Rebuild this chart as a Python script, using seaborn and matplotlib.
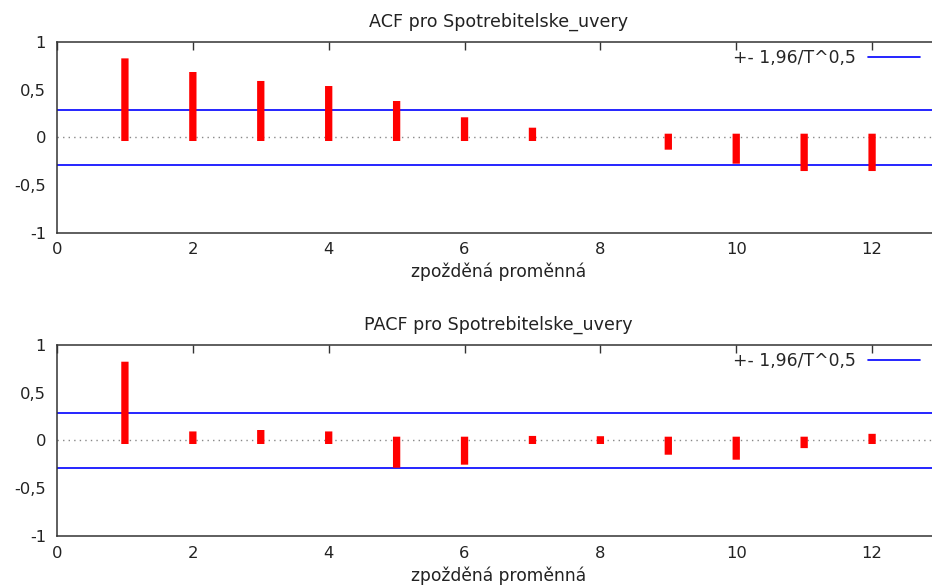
import numpy as np
import pandas as pd
import matplotlib
matplotlib.use("Agg")
import matplotlib.pyplot as plt
from matplotlib.lines import Line2D
import seaborn as sns

lags = [1, 2, 3, 4, 5, 6, 7, 8, 9, 10, 11, 12]
acf_values = [0.79, 0.647, 0.553, 0.50, 0.343, 0.172, 0.063, np.nan, -0.091, -0.238, -0.315, -0.315]
pacf_values = [0.784, 0.055, 0.07, 0.055, -0.248, -0.216, 0.008, 0.005, -0.112, -0.164, -0.043, 0.03]
band = 0.286
titles = ["ACF pro Spotrebitelske_uvery", "PACF pro Spotrebitelske_uvery"]
xlabel = "zpožděná proměnná"
legend_label = "+- 1,96/T^0,5"
xticks = [0, 2, 4, 6, 8, 10, 12]
yticks = [-1, -0.5, 0, 0.5, 1]
ytick_labels = ["-1", "-0,5", "0", "0,5", "1"]

sns.set_theme(style="white")
plt.rcParams["font.family"] = ["DejaVu Sans"]
plt.rcParams["path.simplify"] = False

FS = 11.8
W, H = 932, 585
fig = plt.figure(figsize=(W / 100, H / 100), dpi=100)
# axes boxes in pixels: left, top, right, bottom
boxes = [(57, 42, 940, 232.7), (57, 344.7, 940, 536)]

for vals, title, (l, t, r, b) in zip([acf_values, pacf_values], titles, boxes):
    ax = fig.add_axes([l / W, 1 - b / H, (r - l) / W, (b - t) / H])
    df = pd.DataFrame({"lag": lags, "value": vals}).dropna()
    # impulses: each lag is a segment from 0 to its value
    seg = pd.concat([df.assign(y=0.0, order=0), df.assign(y=df["value"], order=1)])
    seg = seg.sort_values(["lag", "order"]).reset_index(drop=True)
    ax.axhline(0, color="#888888", lw=1.0, linestyle=(0, (1, 3)), zorder=1)
    n_before = len(ax.lines)
    sns.lineplot(data=seg, x="lag", y="y", units="lag", estimator=None, sort=False,
                 color="#ff0000", linewidth=5.26, ax=ax, zorder=3)
    for ln in ax.lines[n_before:]:
        ln.set_solid_capstyle("projecting")
        ln.set_snap(False)
    ax.axhline(band, color="#0000ff", lw=1.2, zorder=2)
    ax.axhline(-band, color="#0000ff", lw=1.2, zorder=2)
    ax.set_xlim(0, 13)
    ax.set_ylim(-1, 1)
    ax.set_xticks(xticks)
    ax.set_xticklabels([str(v) for v in xticks])
    ax.set_yticks(yticks)
    ax.set_yticklabels(ytick_labels)
    ax.tick_params(direction="in", length=6, width=1.0, color="#333333",
                   top=True, right=True, labelsize=FS, labelcolor="#222222")
    ax.tick_params(axis="x", pad=7)
    ax.tick_params(axis="y", pad=8)
    for s in ax.spines.values():
        s.set_color("#333333")
        s.set_linewidth(1.1)
    ax.set_xlabel(xlabel, fontsize=12.3, color="#222222", labelpad=4)
    ax.set_ylabel("")
    ax.set_title(title, fontsize=12.6, color="#222222", pad=11)
    handle = Line2D([], [], color="#0000ff", lw=1.2)
    ax.legend([handle], [legend_label], loc="upper right",
              bbox_to_anchor=(920 / W, 1 - (t + 7) / H),
              bbox_transform=fig.transFigure, frameon=False, markerfirst=False,
              handlelength=3.0, handletextpad=0.7, fontsize=12.4,
              borderaxespad=0, borderpad=0)

fig.savefig("out.png", dpi=100)
